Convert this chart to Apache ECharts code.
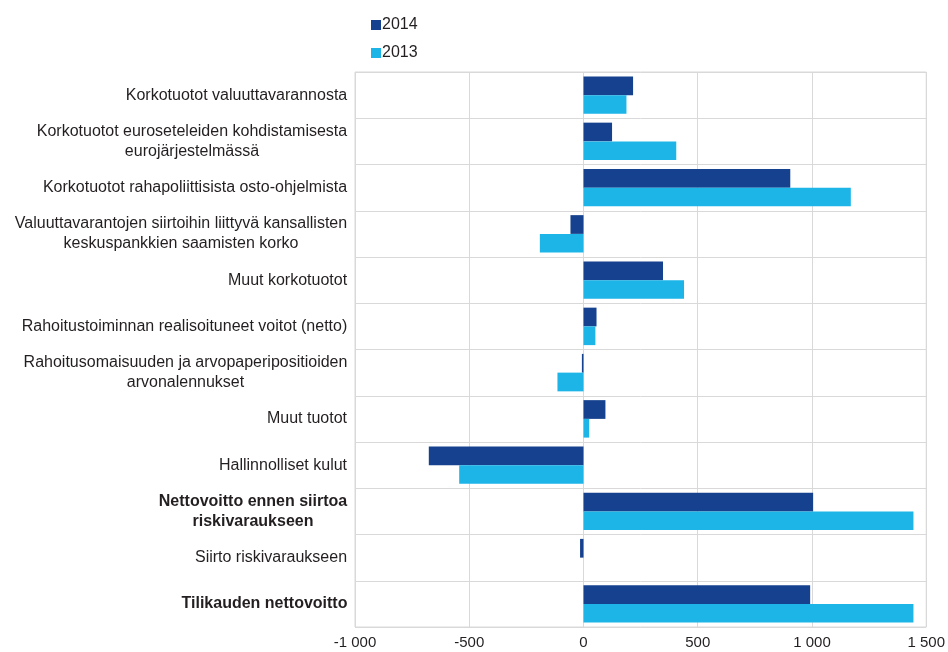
<!DOCTYPE html>
<html><head><meta charset="utf-8">
<script src="https://cdn.jsdelivr.net/npm/echarts@6/dist/echarts.min.js"></script>
<style>html,body{margin:0;padding:0;background:#fff}#c{width:948px;height:652px}</style>
</head><body><div id="c"></div><script>
const categories = [
  "Korkotuotot valuuttavarannosta",
  "Korkotuotot euroseteleiden kohdistamisesta\neurojärjestelmässä",
  "Korkotuotot rahapoliittisista osto-ohjelmista",
  "Valuuttavarantojen siirtoihin liittyvä kansallisten\nkeskuspankkien saamisten korko",
  "Muut korkotuotot",
  "Rahoitustoiminnan realisoituneet voitot (netto)",
  "Rahoitusomaisuuden ja arvopaperipositioiden\narvonalennukset",
  "Muut tuotot",
  "Hallinnolliset kulut",
  "Nettovoitto ennen siirtoa\nriskivaraukseen",
  "Siirto riskivaraukseen",
  "Tilikauden nettovoitto"
];
const boldCategories = ["Nettovoitto ennen siirtoa\nriskivaraukseen", "Tilikauden nettovoitto"];
const seriesNames = ["2014", "2013"];
const values2014 = [217, 125, 905, -57, 348, 57, -7, 96, -677, 1005, -15, 992];
const values2013 = [188, 406, 1170, -191, 440, 52, -114, 25, -544, 1444, 0, 1444];
const xMin = -1000, xMax = 1500, xInterval = 500;

const LABEL_SIZE = 16;
const TICK_SIZE = 15;
const FONT_FAMILY = '"Liberation Sans", Arial, sans-serif';
const TEXT_COLOR = '#231f20';
const GRID_COLOR = '#d9d9d9';

// measure label lines so multi-line labels can be centred within their block
const ctx = document.createElement('canvas').getContext('2d');
const rich = {};
categories.forEach((c, i) => {
  const bold = boldCategories.includes(c);
  ctx.font = (bold ? 'bold ' : '') + LABEL_SIZE + 'px ' + FONT_FAMILY;
  const w = Math.max(...c.split('\n').map(l => ctx.measureText(l).width));
  rich['c' + i] = {
    width: Math.ceil(w) + 1, align: 'center', fontWeight: bold ? 'bold' : 'normal',
    fontSize: LABEL_SIZE, fontFamily: FONT_FAMILY, color: TEXT_COLOR, lineHeight: 20
  };
});

function fmtThousands(v) {
  const s = Math.abs(v).toString().replace(/\B(?=(\d{3})+(?!\d))/g, ' ');
  return (v < 0 ? '-' : '') + s;
}

const chart = echarts.init(document.getElementById('c'), null, {renderer: 'canvas'});
chart.setOption({
  animation: false,
  backgroundColor: '#fff',
  textStyle: {fontFamily: FONT_FAMILY},
  legend: {
    orient: 'vertical', left: 366, top: 12, itemWidth: 10, itemHeight: 10, itemGap: 12,
    icon: 'rect', data: seriesNames,
    itemStyle: {borderWidth: 0},
    textStyle: {fontSize: LABEL_SIZE, color: TEXT_COLOR, fontFamily: FONT_FAMILY, padding: [0, 0, 0, -4]}
  },
  grid: {left: 355, right: 21, top: 72, bottom: 25, show: true, borderColor: GRID_COLOR, borderWidth: 1},
  xAxis: {
    type: 'value', min: xMin, max: xMax, interval: xInterval,
    axisLine: {show: false}, axisTick: {show: false},
    splitLine: {show: true, lineStyle: {color: GRID_COLOR, width: 1}},
    axisLabel: {fontSize: TICK_SIZE, color: TEXT_COLOR, margin: 8, formatter: fmtThousands}
  },
  yAxis: {
    type: 'category', data: categories, inverse: true,
    axisLine: {show: false}, axisTick: {show: false},
    splitLine: {show: true, lineStyle: {color: GRID_COLOR, width: 1}},
    axisLabel: {
      margin: 7, interval: 0, align: 'right',
      formatter: (val, idx) => val.split('\n').map(l => '{c' + idx + '|' + l + '}').join('\n'),
      rich: rich
    }
  },
  series: [
    {name: seriesNames[0], type: 'bar', data: values2014, barGap: '0%', barCategoryGap: '19%',
     itemStyle: {color: '#15418e'}},
    {name: seriesNames[1], type: 'bar', data: values2013, barGap: '0%', barCategoryGap: '19%',
     itemStyle: {color: '#1db5e8'}}
  ]
});
</script></body></html>
